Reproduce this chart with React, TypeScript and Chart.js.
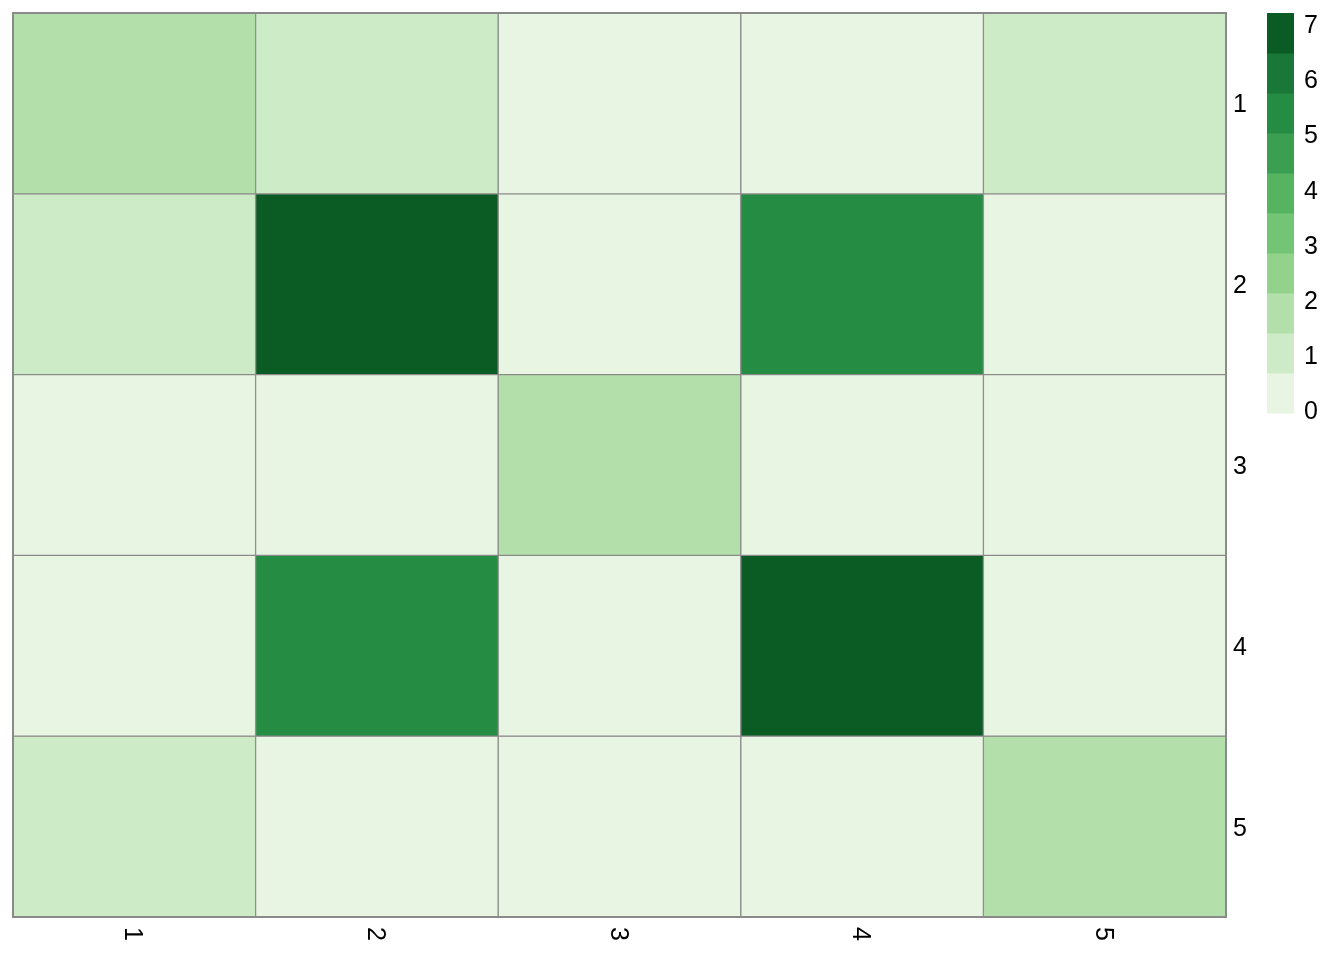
import React, { useEffect, useRef } from "react";
import { Chart, registerables } from "chart.js";

Chart.register(...registerables);

const colLabels = ["1", "2", "3", "4", "5"];
const rowLabels = ["1", "2", "3", "4", "5"];
const row1 = [2, 1, 0, 0, 1];
const row2 = [1, 7, 0, 5, 0];
const row3 = [0, 0, 2, 0, 0];
const row4 = [0, 5, 0, 7, 0];
const row5 = [1, 0, 0, 0, 2];
const rows = [row1, row2, row3, row4, row5];
const legendTicks = [0, 1, 2, 3, 4, 5, 6, 7];
const palette = [
  "#e9f5e3",
  "#cdebc6",
  "#b3e0aa",
  "#93d28b",
  "#74c476",
  "#56b360",
  "#3a9f51",
  "#258d43",
  "#197838",
  "#0b5c24",
];
const binSize = 0.7;
const legendMax = 7.2;

const FONT = "Liberation Sans, Arial, Helvetica, sans-serif";
const FONT_SIZE = 25;
const GRID = "#8a8a8a";

function colorFor(v: number) {
  return palette[Math.min(palette.length - 1, Math.floor(v / binSize + 1e-9))];
}

const labelPlugin = {
  id: "heatLabels",
  afterDraw(chart: any) {
    const ctx = chart.ctx;
    const xs = chart.scales.x;
    const ys = chart.scales.y;
    const area = chart.chartArea;
    ctx.save();
    // outer frame
    ctx.strokeStyle = GRID;
    ctx.lineWidth = 2;
    ctx.strokeRect(area.left, area.top, area.right - area.left, area.bottom - area.top);
    const digitHalf = FONT_SIZE * 0.358;
    ctx.fillStyle = "#000";
    ctx.font = `${FONT_SIZE}px ${FONT}`;
    // row labels on right
    ctx.textAlign = "left";
    ctx.textBaseline = "alphabetic";
    rowLabels.forEach((l, i) => {
      const y = ys.getPixelForValue(i + 0.5);
      ctx.fillText(l, area.right + 7, y + digitHalf);
    });
    // column labels, rotated clockwise
    colLabels.forEach((l, i) => {
      const x = xs.getPixelForValue(i);
      ctx.save();
      ctx.translate(x, area.bottom + 10);
      ctx.rotate(Math.PI / 2);
      ctx.textAlign = "left";
      ctx.textBaseline = "alphabetic";
      ctx.fillText(l, 0, digitHalf);
      ctx.restore();
    });
    // colour bar legend
    const lx0 = 1267;
    const lx1 = 1294;
    const ly0 = 13;
    const ly1 = 413;
    const yOf = (v: number) => ly1 - (v / legendMax) * (ly1 - ly0);
    const bw = legendMax / palette.length;
    palette.forEach((c, k) => {
      const yTop = yOf((k + 1) * bw);
      const yBot = yOf(k * bw);
      ctx.fillStyle = c;
      ctx.fillRect(lx0, yTop, lx1 - lx0, yBot - yTop + 0.5);
    });
    ctx.fillStyle = "#000";
    legendTicks.forEach((t) => {
      ctx.fillText(String(t), 1304, yOf(t) - 2.5 * (1 - t / 7) + digitHalf);
    });
    ctx.restore();
  },
};

export default function App() {
  const ref = useRef<HTMLCanvasElement | null>(null);
  useEffect(() => {
    if (!ref.current) return;
    const datasets = rows.map((r, i) => ({
      label: "row " + rowLabels[i],
      data: r.map(() => [i, i + 1]),
      backgroundColor: r.map((v) => colorFor(v)),
      borderColor: GRID,
      borderWidth: 1,
      borderSkipped: false,
      barPercentage: 1,
      categoryPercentage: 1,
    }));
    const chart = new Chart(ref.current, {
      type: "bar",
      data: { labels: colLabels, datasets: datasets as any },
      options: {
        animation: false,
        responsive: false,
        maintainAspectRatio: false,
        layout: { padding: { left: 13, top: 13, right: 118, bottom: 43 } },
        plugins: { legend: { display: false }, tooltip: { enabled: false } },
        scales: {
          x: { display: false, stacked: true, grid: { display: false } },
          y: {
            display: false,
            type: "linear",
            min: 0,
            max: 5,
            reverse: true,
            stacked: false,
            grid: { display: false },
          },
        },
      },
      plugins: [labelPlugin],
    });
    return () => chart.destroy();
  }, []);
  return (
    <div style={{ position: "fixed", left: 0, top: 0, width: 1344, height: 960, background: "#fff" }}>
      <canvas ref={ref} width={1344} height={960} style={{ width: 1344, height: 960, display: "block" }} />
    </div>
  );
}
